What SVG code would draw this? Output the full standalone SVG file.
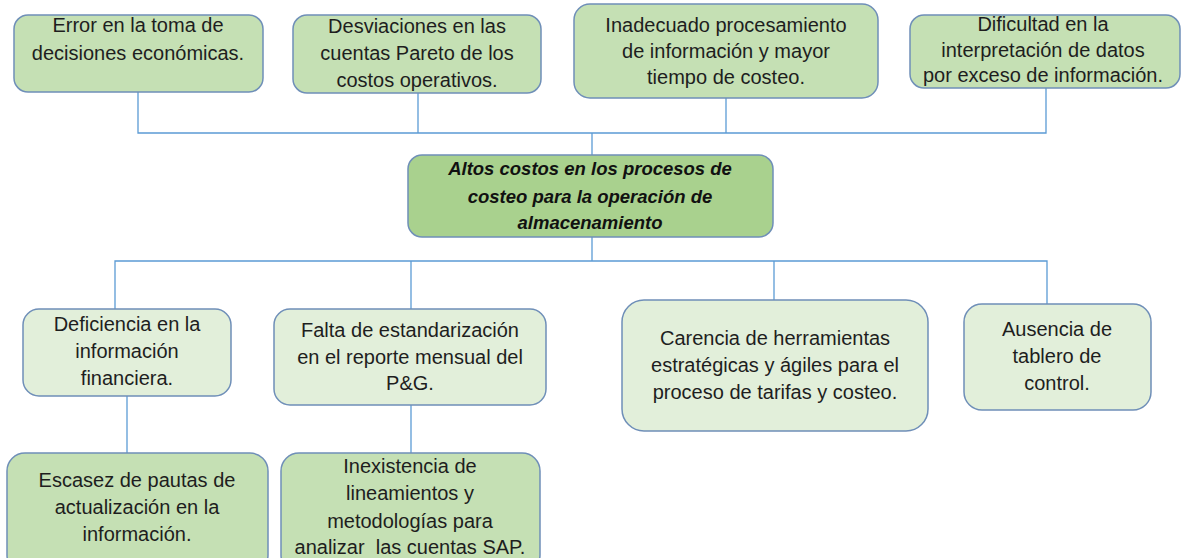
<svg xmlns="http://www.w3.org/2000/svg" width="1181" height="558" viewBox="0 0 1181 558">
<style>
.box{stroke:#6f8fb8;stroke-width:1.5}
.g1{fill:#c5e0b4}
.g2{fill:#a9d18e}
.g3{fill:#e2efda}
.t{font-family:"Liberation Sans",Arial,sans-serif;font-size:20px;fill:#1e1e1e;text-anchor:middle}
.tb{font-family:"Liberation Sans",Arial,sans-serif;font-size:18.5px;font-weight:bold;font-style:italic;fill:#111;text-anchor:middle}
.c{fill:none;stroke:#5b9bd5;stroke-width:1.3}
</style>
<rect width="1181" height="558" fill="#ffffff"/>
<g id="connectors">
<polyline class="c" points="138,92 138,133 1046,133 1046,88"/>
<line class="c" x1="418" y1="93" x2="418" y2="133"/>
<line class="c" x1="726" y1="98" x2="726" y2="133"/>
<line class="c" x1="592" y1="133" x2="592" y2="155"/>
<line class="c" x1="592" y1="237" x2="592" y2="261"/>
<polyline class="c" points="115,309 115,261 1047,261 1047,304"/>
<line class="c" x1="411" y1="261" x2="411" y2="309"/>
<line class="c" x1="774" y1="261" x2="774" y2="300"/>
<line class="c" x1="127" y1="396" x2="127" y2="453"/>
<line class="c" x1="411" y1="405" x2="411" y2="453"/>
</g>
<g id="n1">
<rect class="box g1" x="14" y="15" width="249" height="77" rx="14"/>
<text class="t" x="138" y="32">Error en la toma de</text>
<text class="t" x="138" y="60">decisiones económicas.</text>
</g>
<g id="n2">
<rect class="box g1" x="293" y="15" width="248" height="78" rx="14"/>
<text class="t" x="417" y="33">Desviaciones en las</text>
<text class="t" x="417" y="60">cuentas Pareto de los</text>
<text class="t" x="417" y="87">costos operativos.</text>
</g>
<g id="n3">
<rect class="box g1" x="574" y="4" width="304" height="94" rx="16"/>
<text class="t" x="726" y="32">Inadecuado procesamiento</text>
<text class="t" x="726" y="58">de información y mayor</text>
<text class="t" x="726" y="84">tiempo de costeo.</text>
</g>
<g id="n4">
<rect class="box g1" x="910" y="15" width="270" height="73" rx="14"/>
<text class="t" x="1043" y="31">Dificultad en la</text>
<text class="t" x="1043" y="57">interpretación de datos</text>
<text class="t" x="1043" y="82">por exceso de información.</text>
</g>
<g id="center">
<rect class="box g2" x="408" y="155" width="365" height="82" rx="14"/>
<text class="tb" x="590" y="175">Altos costos en los procesos de</text>
<text class="tb" x="590" y="203">costeo para la operación de</text>
<text class="tb" x="590" y="229">almacenamiento</text>
</g>
<g id="n5">
<rect class="box g3" x="23" y="309" width="208" height="87" rx="16"/>
<text class="t" x="127" y="331">Deficiencia en la</text>
<text class="t" x="127" y="358">información</text>
<text class="t" x="127" y="385">financiera.</text>
</g>
<g id="n6">
<rect class="box g3" x="274" y="309" width="272" height="96" rx="16"/>
<text class="t" x="410" y="337">Falta de estandarización</text>
<text class="t" x="410" y="364">en el reporte mensual del</text>
<text class="t" x="410" y="390">P&amp;G.</text>
</g>
<g id="n7">
<rect class="box g3" x="622" y="300" width="306" height="131" rx="22"/>
<text class="t" x="775" y="345">Carencia de herramientas</text>
<text class="t" x="775" y="372">estratégicas y ágiles para el</text>
<text class="t" x="775" y="399">proceso de tarifas y costeo.</text>
</g>
<g id="n8">
<rect class="box g3" x="964" y="304" width="187" height="106" rx="18"/>
<text class="t" x="1057" y="336">Ausencia de</text>
<text class="t" x="1057" y="363">tablero de</text>
<text class="t" x="1057" y="390">control.</text>
</g>
<g id="n9">
<rect class="box g1" x="7" y="453" width="261" height="120" rx="18"/>
<text class="t" x="137" y="487">Escasez de pautas de</text>
<text class="t" x="137" y="514">actualización en la</text>
<text class="t" x="137" y="541">información.</text>
</g>
<g id="n10">
<rect class="box g1" x="281" y="453" width="259" height="120" rx="18"/>
<text class="t" x="410" y="473">Inexistencia de</text>
<text class="t" x="410" y="500">lineamientos y</text>
<text class="t" x="410" y="528">metodologías para</text>
<text class="t" x="410" y="554" style="white-space:pre" xml:space="preserve">analizar  las cuentas SAP.</text>
</g>
</svg>
